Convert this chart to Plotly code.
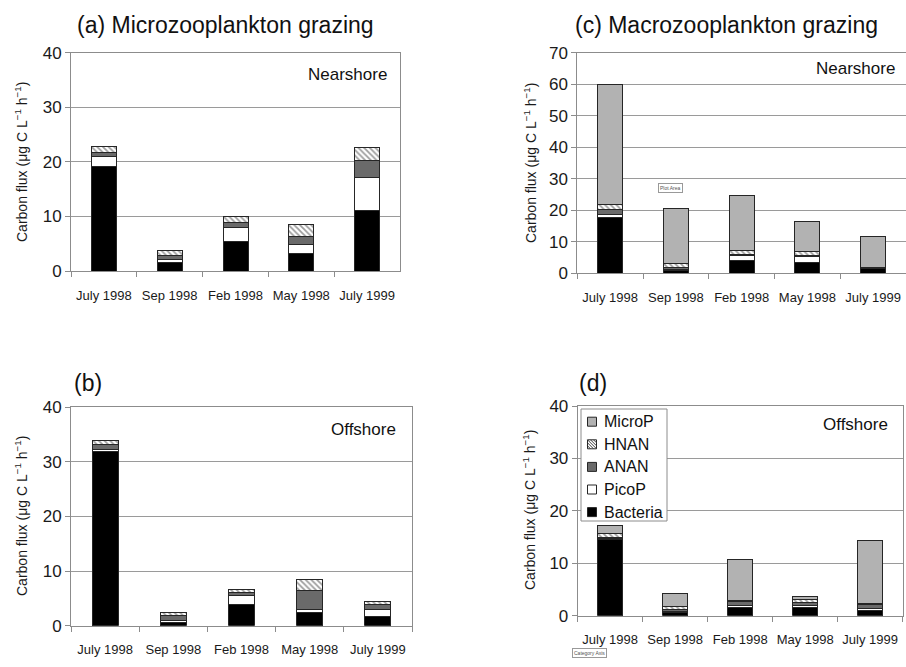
import plotly.graph_objects as go

months = ["July 1998", "Sep 1998", "Feb 1998", "May 1998", "July 1999"]

# (a) microzooplankton grazing, nearshore
a_bacteria = [19.1, 1.6, 5.4, 3.2, 11.1]
a_picop = [1.8, 0.5, 2.5, 1.7, 6.0]
a_anan = [0.9, 0.7, 1.0, 1.4, 3.1]
a_hnan = [1.1, 1.0, 1.0, 2.3, 2.5]

# (b) microzooplankton grazing, offshore
b_bacteria = [31.9, 0.55, 3.9, 2.45, 1.7]
b_picop = [0.4, 0.35, 1.6, 0.55, 1.2]
b_anan = [0.8, 0.9, 0.6, 3.4, 1.0]
b_hnan = [0.9, 0.65, 0.5, 2.0, 0.6]

# (c) macrozooplankton grazing, nearshore
c_bacteria = [17.7, 0.85, 4.2, 3.5, 1.4]
c_picop = [1.1, 0.45, 1.5, 1.8, 0.1]
c_anan = [1.3, 0.6, 0.4, 0.5, 0.4]
c_hnan = [1.6, 1.2, 1.0, 1.1, 0.1]
c_microp = [38.2, 17.5, 17.7, 9.4, 9.8]

# (d) macrozooplankton grazing, offshore
d_bacteria = [14.5, 0.6, 1.5, 1.6, 0.9]
d_picop = [0.2, 0.2, 0.5, 0.4, 0.4]
d_anan = [0.3, 0.4, 0.8, 0.5, 0.9]
d_hnan = [0.7, 0.6, 0.1, 0.5, 0.05]
d_microp = [1.5, 2.4, 7.9, 0.7, 12.0]

legend_order = ["MicroP", "HNAN", "ANAN", "PicoP", "Bacteria"]

FONT = "Arial, Liberation Sans, sans-serif"
W, H = 906, 667
EDGE = "#262626"

fills = {
    "Bacteria": "#000000",
    "PicoP": "#ffffff",
    "ANAN": "#6a6a6a",
    "HNAN": "#ffffff",
    "MicroP": "#b2b2b2",
}
hatch = dict(shape="\\", fgcolor="#3a3a3a", bgcolor="#ffffff", size=4, solidity=0.45)

panels = [
    ("x", "y", [("Bacteria", a_bacteria), ("PicoP", a_picop), ("ANAN", a_anan), ("HNAN", a_hnan)]),
    ("x2", "y2", [("Bacteria", b_bacteria), ("PicoP", b_picop), ("ANAN", b_anan), ("HNAN", b_hnan)]),
    ("x3", "y3", [("Bacteria", c_bacteria), ("PicoP", c_picop), ("ANAN", c_anan), ("HNAN", c_hnan),
                  ("MicroP", c_microp)]),
    ("x4", "y4", [("Bacteria", d_bacteria), ("PicoP", d_picop), ("ANAN", d_anan), ("HNAN", d_hnan),
                  ("MicroP", d_microp)]),
]

fig = go.Figure()
for xa, ya, series in panels:
    for name, vals in series:
        marker = dict(color=fills[name], line=dict(color=EDGE, width=1))
        if name == "HNAN":
            marker["pattern"] = hatch
        fig.add_trace(go.Bar(
            x=months, y=vals, name=name, xaxis=xa, yaxis=ya,
            width=0.38, showlegend=False, marker=marker,
        ))


def px_x(v):
    return v / W


def px_y(v):
    return 1 - v / H


def xaxis(left, right, anchor):
    return dict(
        domain=[px_x(left), px_x(right)], type="category", anchor=anchor,
        automargin=False,
        showline=True, linecolor="#8c8c8c", linewidth=1, mirror=True,
        ticks="outside", tickson="boundaries", ticklen=5, tickcolor="#8c8c8c",
        tickangle=0,
        tickfont=dict(family=FONT, size=13, color="#1a1a1a"),
        ticklabelstandoff=12, showgrid=False, fixedrange=True,
    )


def yaxis(top, bottom, ymax, anchor):
    return dict(
        domain=[px_y(bottom), px_y(top)], range=[0, ymax], dtick=10,
        anchor=anchor, automargin=False,
        showline=True, linecolor="#8c8c8c", linewidth=1, mirror=True,
        ticks="outside", ticklen=5, tickcolor="#8c8c8c",
        showgrid=True, gridcolor="#9a9a9a", gridwidth=1,
        zeroline=False, fixedrange=True,
        tickfont=dict(family=FONT, size=17, color="#1a1a1a"),
    )


fig.update_layout(
    width=W, height=H, autosize=False, barmode="stack",
    margin=dict(l=0, r=0, t=0, b=0, pad=0),
    paper_bgcolor="white", plot_bgcolor="white",
    font=dict(family=FONT, color="#1a1a1a"),
    xaxis=xaxis(71, 400, "y"),
    yaxis=yaxis(52.7, 271, 40, "x"),
    xaxis2=xaxis(71, 412, "y2"),
    yaxis2=yaxis(407.3, 625.7, 40, "x2"),
    xaxis3=xaxis(577.3, 906, "y3"),
    yaxis3=yaxis(52.7, 273.3, 70, "x3"),
    xaxis4=xaxis(577.7, 902.7, "y4"),
    yaxis4=yaxis(406, 615.7, 40, "x4"),
    showlegend=False,
)

texts = [
    ("(a) Microzooplankton grazing", 225.5, 25, 23, "center"),
    ("(c) Macrozooplankton grazing", 726, 25, 23, "center"),
    ("(b)", 72, 383, 23, "left"),
    ("(d)", 577, 383, 23, "left"),
    ("Nearshore", 347.5, 74, 17, "center"),
    ("Offshore", 363.5, 429, 17, "center"),
    ("Nearshore", 855, 68, 17, "center"),
    ("Offshore", 855.5, 424, 17, "center"),
]
for t, x, y, s, anc in texts:
    fig.add_annotation(text=t, x=px_x(x), y=px_y(y), xref="paper", yref="paper",
                       xanchor=anc, yanchor="middle", showarrow=False,
                       font=dict(family=FONT, size=s, color="#111111"))

# vertical axis titles, centred on each panel's plotting area
ytitle = "Carbon flux (μg C L<sup>−1</sup> h<sup>−1</sup>)"
for x, y in [(21, 162), (21, 516), (530, 163), (529, 510)]:
    fig.add_annotation(text=ytitle, x=px_x(x), y=px_y(y), xref="paper", yref="paper",
                       textangle=-90, xanchor="center", yanchor="middle", showarrow=False,
                       font=dict(family=FONT, size=14, color="#1a1a1a"))

# legend for panel (d): framed box with one swatch and label per prey group
LX0, LY0, LX1, LY1 = 581, 409, 667, 521
fig.add_shape(type="rect", xref="paper", yref="paper",
              x0=px_x(LX0), x1=px_x(LX1), y0=px_y(LY1), y1=px_y(LY0),
              fillcolor="white", line=dict(color="#8c8c8c", width=1))
for i, name in enumerate(legend_order):
    cy = 421.7 + i * 22.6
    sx0, sx1 = 587.5, 596.5
    sy0, sy1 = cy - 4.5, cy + 4.5
    fig.add_shape(type="rect", xref="paper", yref="paper",
                  x0=px_x(sx0), x1=px_x(sx1), y0=px_y(sy1), y1=px_y(sy0),
                  fillcolor=fills[name], line=dict(color=EDGE, width=1))
    if name == "HNAN":
        segs = []
        for k in range(-3, 4):
            off = k * 3.0
            # lines running from upper-left to lower-right, clipped to the swatch
            xa_, ya_ = sx0 + max(0, off), sy0 + max(0, -off)
            xb_, yb_ = sx1 - max(0, -off), sy1 - max(0, off)
            if xb_ - xa_ > 0.5:
                segs.append(f"M{px_x(xa_)},{px_y(ya_)} L{px_x(xb_)},{px_y(yb_)}")
        fig.add_shape(type="path", xref="paper", yref="paper", path=" ".join(segs),
                      line=dict(color="#3a3a3a", width=1))
    fig.add_annotation(text=name, x=px_x(602), y=px_y(cy), xref="paper", yref="paper",
                       xanchor="left", yanchor="middle", showarrow=False,
                       font=dict(family=FONT, size=16, color="#111111"))

# small chart-element labels
for t, x, y in [("Plot Area", 683, 183), ("Category Axis", 607, 658)]:
    fig.add_annotation(text=t, x=px_x(x), y=px_y(y), xref="paper", yref="paper",
                       showarrow=False, font=dict(family=FONT, size=5, color="#555555"),
                       bordercolor="#999999", borderwidth=1, borderpad=1, bgcolor="white")

fig.write_html("out.html")
